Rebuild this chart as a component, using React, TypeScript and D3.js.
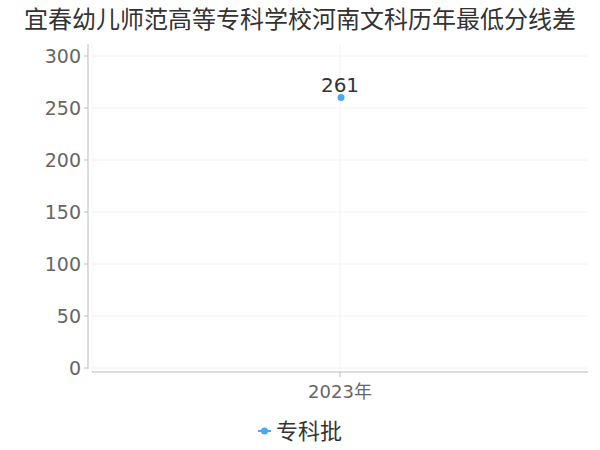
import { useRef, useEffect } from "react";
import * as d3 from "d3";

const title = "宜春幼儿师范高等专科学校河南文科历年最低分线差";
const years = ["2023年"];
const seriesName = "专科批";
const values = [261];
const yTicks = [0, 50, 100, 150, 200, 250, 300];

export default function App() {
  const svgRef = useRef<SVGSVGElement>(null);

  useEffect(() => {
    if (!svgRef.current) return;
    const width = 600;
    const height = 450;
    const font = "'DejaVu Sans', 'Noto Sans CJK SC', sans-serif";

    const svg = d3.select(svgRef.current);
    svg.selectAll("*").remove();
    svg.attr("width", width).attr("height", height).style("font-family", font);

    const x = d3.scaleBand().domain(years).range([92, 588]);
    const y = d3.scaleLinear().domain([0, 300]).range([368, 56]);

    // title
    svg
      .append("text")
      .attr("x", width / 2)
      .attr("y", 28)
      .attr("text-anchor", "middle")
      .attr("fill", "#333")
      .attr("font-size", 24)
      .text(title);

    // horizontal grid
    svg
      .selectAll(".grid")
      .data(yTicks)
      .enter()
      .append("line")
      .attr("x1", 92)
      .attr("x2", 588)
      .attr("y1", (d) => y(d))
      .attr("y2", (d) => y(d))
      .attr("stroke", "#f2f2f2");

    // vertical grid at category
    years.forEach((c) => {
      const cx = (x(c) || 0) + x.bandwidth() / 2;
      svg.append("line").attr("x1", cx).attr("x2", cx).attr("y1", 44).attr("y2", 372).attr("stroke", "#f2f2f2");
    });
    svg.append("line").attr("x1", 92).attr("x2", 92).attr("y1", 44).attr("y2", 372).attr("stroke", "#f4f4f4");

    // y axis
    svg.append("line").attr("x1", 88).attr("x2", 88).attr("y1", 44).attr("y2", 369).attr("stroke", "#bbb");
    svg
      .selectAll(".ytick")
      .data(yTicks)
      .enter()
      .append("line")
      .attr("x1", 84)
      .attr("x2", 88)
      .attr("y1", (d) => y(d))
      .attr("y2", (d) => y(d))
      .attr("stroke", "#bbb");
    svg
      .selectAll(".ylabel")
      .data(yTicks)
      .enter()
      .append("text")
      .attr("x", 81)
      .attr("y", (d) => y(d) + 7)
      .attr("text-anchor", "end")
      .attr("fill", "#666")
      .attr("font-size", 19)
      .text((d) => d);

    // x axis
    svg.append("line").attr("x1", 92).attr("x2", 588).attr("y1", 372).attr("y2", 372).attr("stroke", "#bbb");
    years.forEach((c) => {
      const cx = (x(c) || 0) + x.bandwidth() / 2;
      svg.append("line").attr("x1", cx).attr("x2", cx).attr("y1", 372).attr("y2", 377).attr("stroke", "#bbb");
      svg
        .append("text")
        .attr("x", cx)
        .attr("y", 398)
        .attr("text-anchor", "middle")
        .attr("fill", "#666")
        .attr("font-size", 18)
        .text(c);
    });

    // points
    const line = d3
      .line<number>()
      .x((_, i) => (x(years[i]) || 0) + x.bandwidth() / 2)
      .y((d) => y(d));
    svg.append("path").attr("d", line(values)).attr("fill", "none").attr("stroke", "#4da6f5").attr("stroke-width", 2);

    values.forEach((v, i) => {
      const cx = (x(years[i]) || 0) + x.bandwidth() / 2;
      svg.append("circle").attr("cx", cx + 1).attr("cy", y(v) + 1).attr("r", 3.5).attr("fill", "#4da6f5");
      svg
        .append("text")
        .attr("x", cx)
        .attr("y", y(v) - 5)
        .attr("text-anchor", "middle")
        .attr("fill", "#333")
        .attr("font-size", 20)
        .text(v);
    });

    // legend
    const lg = svg.append("g").attr("transform", "translate(258,431)");
    lg.append("line").attr("x1", 0).attr("x2", 13).attr("y1", 0).attr("y2", 0).attr("stroke", "#4da6f5").attr("stroke-width", 2);
    lg.append("circle").attr("cx", 6.5).attr("cy", 0).attr("r", 3.5).attr("fill", "#4da6f5");
    lg.append("text")
      .attr("x", 18)
      .attr("y", 8)
      .attr("fill", "#333")
      .attr("font-size", 22)
      .text(seriesName);
  }, []);

  return (
    <div style={{ position: "absolute", left: 0, top: 0 }}>
      <svg ref={svgRef} />
    </div>
  );
}
